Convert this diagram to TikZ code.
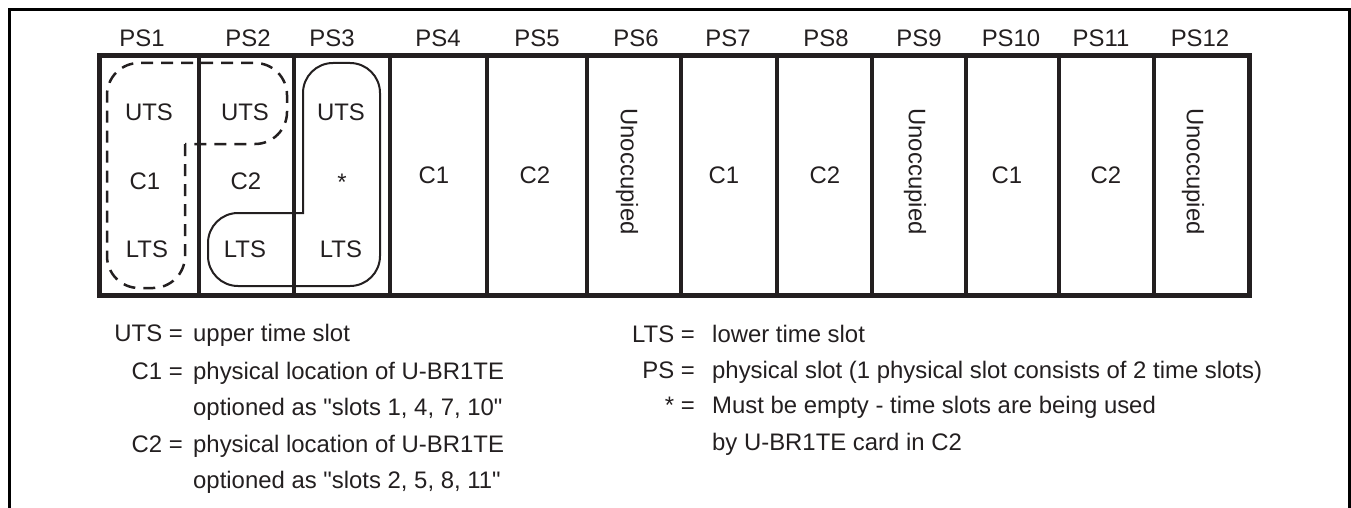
\documentclass[tikz,border=0pt]{standalone}
\usepackage{fontspec}
\newfontfamily\arialfont{Liberation Sans}
\definecolor{ink}{RGB}{35,31,32}
\begin{document}
\begin{tikzpicture}[x=1pt,y=-1pt,
  every node/.style={inner sep=0pt, font=\arialfont\fontsize{23.9}{28}\selectfont, text=ink},
  lbl/.style={anchor=base},
  lkey/.style={anchor=base east},
  ltxt/.style={anchor=base west},
  vert/.style={anchor=center, rotate=-90},
  rackline/.style={draw=ink, line width=5pt},
  divline/.style={draw=ink, line width=4pt},
  cardC1/.style={draw=ink, line width=2.5pt, dash pattern=on 12pt off 8pt, rounded corners=32pt},
  cardC2/.style={draw=ink, line width=2pt, rounded corners=30pt, line cap=rect}]
\useasboundingbox (0,0) rectangle (1351,508);
% outer frame
\draw[line width=3pt, black] (9.5,508) -- (9.5,9.5) -- (1349,9.5) -- (1349,508);
% rack
\draw[rackline] (99.5,56) rectangle (1249.5,295);
\foreach \xx in {199,294,390,487,587,681,777,872,966,1059,1154}
  \draw[divline] (\xx,56) -- (\xx,295);
% slot labels
\foreach \xx/\t [count=\i] in {142/PS1,248/PS2,332/PS3,438/PS4,537/PS5,636/PS6,728/PS7,826/PS8,919/PS9,1011/PS10,1101/PS11,1200/PS12}
  \node[lbl] (ps\i) at (\xx,47) {\t};
% card outlines
\draw[cardC1] (185,144) -- (185,288) -- (107,288) -- (107,63) -- (287,63) -- (287,144) -- (185,144);
\draw[cardC2] (303,213) -- (303,63) -- (380,63) -- (380,286) -- (208,286) -- (208,213) -- (303,213);
% cell texts
\node[lbl] (u1) at (149,121) {UTS};
\node[lbl] (c1a) at (145,189) {C1};
\node[lbl] (l1) at (147,257) {LTS};
\node[lbl] (u2) at (245,121) {UTS};
\node[lbl] (c2a) at (246,189) {C2};
\node[lbl] (l2) at (245,257) {LTS};
\node[lbl] (u3) at (341,121) {UTS};
\node[lbl] (st3) at (342,190) {*};
\node[lbl] (l3) at (341,257) {LTS};
\node[lbl] (c1b) at (434,183) {C1};
\node[lbl] (c2b) at (535,183) {C2};
\node[vert] (un6) at (627,171.5) {Unoccupied};
\node[lbl] (c1c) at (724,183) {C1};
\node[lbl] (c2c) at (825,183) {C2};
\node[vert] (un9) at (915,171.5) {Unoccupied};
\node[lbl] (c1d) at (1007,183) {C1};
\node[lbl] (c2d) at (1106,183) {C2};
\node[vert] (un12) at (1193,171.5) {Unoccupied};
% legend left
\node[lkey] (kuts) at (183,341) {UTS =};
\node[ltxt] (tuts) at (193,341) {upper time slot};
\node[lkey] (kc1) at (183,379) {C1 =};
\node[ltxt] (tc1a) at (193,379) {physical location of U-BR1TE};
\node[ltxt] (tc1b) at (193,415) {optioned as "slots 1, 4, 7, 10"};
\node[lkey] (kc2) at (183,452) {C2 =};
\node[ltxt] (tc2a) at (193,452) {physical location of U-BR1TE};
\node[ltxt] (tc2b) at (193,488) {optioned as "slots 2, 5, 8, 11"};
% legend right
\node[lkey] (klts) at (695,342) {LTS =};
\node[ltxt] (tlts) at (712,342) {lower time slot};
\node[lkey] (kps) at (695,378) {PS =};
\node[ltxt] (tps) at (712,378) {physical slot (1 physical slot consists of 2 time slots)};
\node[lkey] (kst) at (695,413) {* =};
\node[ltxt] (tsta) at (712,413) {Must be empty - time slots are being used};
\node[ltxt] (tstb) at (712,450) {by U-BR1TE card in C2};
\end{tikzpicture}
\end{document}
